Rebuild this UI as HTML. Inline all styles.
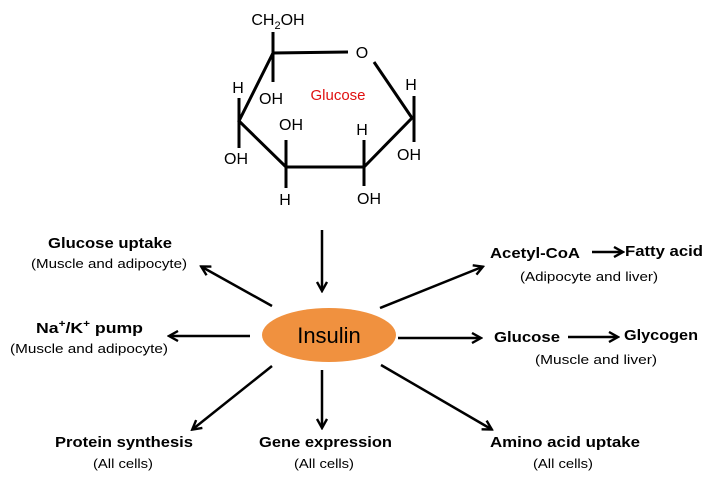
<!DOCTYPE html>
<html><head><style>body{margin:0;background:#fff}svg{display:block}</style></head>
<body>
<svg width="714" height="483" viewBox="0 0 714 483" xmlns="http://www.w3.org/2000/svg" font-family="Liberation Sans, sans-serif">
<defs>
<marker id="a" markerWidth="12" markerHeight="12" refX="9" refY="6" orient="auto" markerUnits="userSpaceOnUse">
<path d="M1,1 L10,6 L1,11" fill="none" stroke="#000" stroke-width="2.4"/>
</marker>
</defs>
<g stroke="#000" stroke-width="3" fill="none" stroke-linecap="butt">
<path d="M348,52 L273,53 L239,121 L286,167 L364,167 L412,118 L374,62"/>
<path d="M273,32 V82 M239,98 V148 M286,140 V188 M364,140 V186 M414,96 V142"/>
</g>
<g font-size="16" fill="#000" text-anchor="middle">
<text x="278" y="25">CH<tspan font-size="11" dy="4">2</tspan><tspan dy="-4">OH</tspan></text>
<text x="362" y="58">O</text>
<text x="271" y="104">OH</text>
<text x="238" y="93">H</text>
<text x="236" y="164">OH</text>
<text x="291" y="130">OH</text>
<text x="285" y="205">H</text>
<text x="362" y="135">H</text>
<text x="369" y="204">OH</text>
<text x="411" y="90">H</text>
<text x="409" y="160">OH</text>
</g>
<text x="338" y="100" font-size="15" fill="#e01010" text-anchor="middle">Glucose</text>
<ellipse cx="329" cy="335" rx="67" ry="27" fill="#f0913f"/>
<text x="329" y="343" font-size="22" text-anchor="middle">Insulin</text>
<g stroke="#000" stroke-width="2.5" marker-end="url(#a)">
<line x1="322" y1="230" x2="322" y2="290"/>
<line x1="272" y1="306" x2="202" y2="267"/>
<line x1="250" y1="336" x2="170" y2="336"/>
<line x1="272" y1="366" x2="193" y2="429"/>
<line x1="322" y1="370" x2="322" y2="427"/>
<line x1="381" y1="365" x2="491" y2="429"/>
<line x1="398" y1="338" x2="480" y2="338"/>
<line x1="380" y1="308" x2="482" y2="267"/>
<line x1="592" y1="252" x2="622" y2="252"/>
<line x1="568" y1="337" x2="617" y2="337"/>
</g>
<g font-size="15" font-weight="bold" fill="#000">
<text x="48" y="248" textLength="124" lengthAdjust="spacingAndGlyphs">Glucose uptake</text>
<text x="36" y="333" textLength="107" lengthAdjust="spacingAndGlyphs">Na<tspan font-size="10" dy="-6">+</tspan><tspan dy="6">/K</tspan><tspan font-size="10" dy="-6">+</tspan><tspan dy="6"> pump</tspan></text>
<text x="55" y="447" textLength="138" lengthAdjust="spacingAndGlyphs">Protein synthesis</text>
<text x="259" y="447" textLength="133" lengthAdjust="spacingAndGlyphs">Gene expression</text>
<text x="490" y="447" textLength="150" lengthAdjust="spacingAndGlyphs">Amino acid uptake</text>
<text x="490" y="258" textLength="90" lengthAdjust="spacingAndGlyphs">Acetyl-CoA</text>
<text x="625" y="256" textLength="78" lengthAdjust="spacingAndGlyphs">Fatty acid</text>
<text x="494" y="342" textLength="66" lengthAdjust="spacingAndGlyphs">Glucose</text>
<text x="624" y="340" textLength="74" lengthAdjust="spacingAndGlyphs">Glycogen</text>
</g>
<g font-size="13" fill="#000">
<text x="31" y="268" textLength="156" lengthAdjust="spacingAndGlyphs">(Muscle and adipocyte)</text>
<text x="10" y="353" textLength="158" lengthAdjust="spacingAndGlyphs">(Muscle and adipocyte)</text>
<text x="93" y="468" textLength="60" lengthAdjust="spacingAndGlyphs">(All cells)</text>
<text x="294" y="468" textLength="60" lengthAdjust="spacingAndGlyphs">(All cells)</text>
<text x="533" y="468" textLength="60" lengthAdjust="spacingAndGlyphs">(All cells)</text>
<text x="520" y="281" textLength="138" lengthAdjust="spacingAndGlyphs">(Adipocyte and liver)</text>
<text x="535" y="364" textLength="122" lengthAdjust="spacingAndGlyphs">(Muscle and liver)</text>
</g>
</svg>
</body></html>
